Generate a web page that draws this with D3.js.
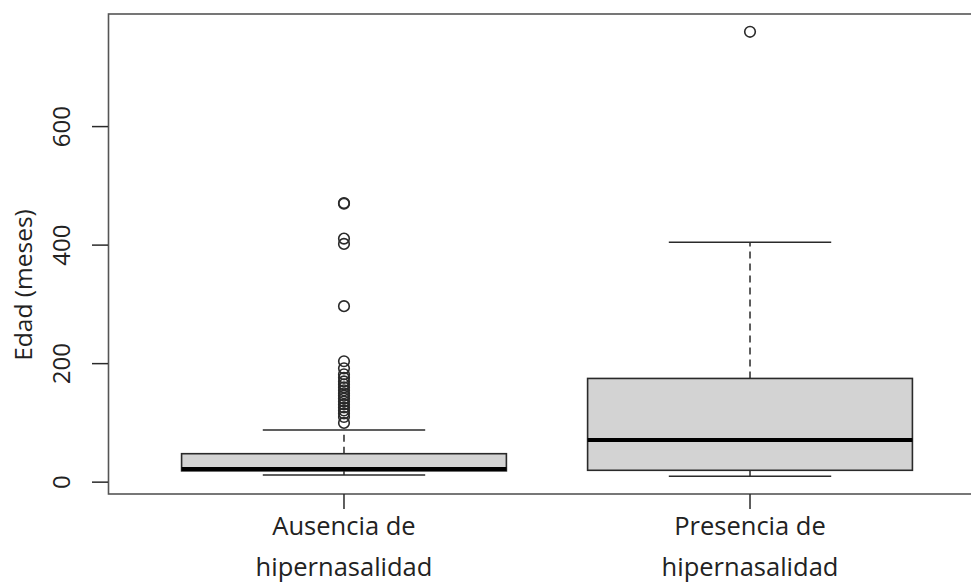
<!DOCTYPE html>
<html>
<head>
<meta charset="utf-8">
<script src="https://cdn.jsdelivr.net/npm/d3@7"></script>
<style>
body { margin: 0; background: #fff; }
text { font-family: "Open Sans", sans-serif; fill: #222; }
</style>
</head>
<body>
<script>
var WIDTH = 971,
    HEIGHT = 585;

// data
var categories = [['Ausencia de', 'hipernasalidad'], ['Presencia de', 'hipernasalidad']];
var whiskerLow = [12, 10];
var q1 = [19, 20];
var median = [22, 71];
var q3 = [48, 175];
var whiskerHigh = [88, 405];
var outliersAusencia = [471, 470, 411, 402, 297, 204, 192, 182, 176, 170, 165, 160, 155, 150, 146, 141, 136, 131, 126, 121, 116, 110, 100];
var outliersPresencia = [760];
var outliers = [outliersAusencia, outliersPresencia];
var yTicks = [0, 200, 400, 600];
var yLabel = 'Edad (meses)';

var svg = d3.select('body').append('svg')
    .attr('width', WIDTH)
    .attr('height', HEIGHT);

var x = d3.scaleLinear().domain([0.42, 2.58]).range([108.5, 985.5]);
var y = d3.scaleLinear().domain([-20, 790]).range([494, 14]);

var boxHalf = 0.4,
    capHalf = 0.2,
    ink = '#2a2a2a';

var groups = svg.selectAll('g.box')
    .data(categories.map(function(c, i) {
        return { pos: i + 1, lo: whiskerLow[i], q1: q1[i], med: median[i], q3: q3[i], hi: whiskerHigh[i], out: outliers[i] };
    }))
    .enter()
    .append('g')
    .attr('class', 'box');

// dashed whiskers
groups.append('line')
    .attr('x1', d => x(d.pos)).attr('x2', d => x(d.pos))
    .attr('y1', d => y(d.q3)).attr('y2', d => y(d.hi))
    .attr('stroke', ink).attr('stroke-width', 1.5)
    .attr('stroke-dasharray', '7,5');
groups.append('line')
    .attr('x1', d => x(d.pos)).attr('x2', d => x(d.pos))
    .attr('y1', d => y(d.lo)).attr('y2', d => y(d.q1))
    .attr('stroke', ink).attr('stroke-width', 1.5)
    .attr('stroke-dasharray', '7,5');

// caps
['lo', 'hi'].forEach(function(k) {
    groups.append('line')
        .attr('x1', d => x(d.pos - capHalf)).attr('x2', d => x(d.pos + capHalf))
        .attr('y1', d => y(d[k])).attr('y2', d => y(d[k]))
        .attr('stroke', ink).attr('stroke-width', 1.5);
});

groups.append('rect')
    .attr('x', d => x(d.pos - boxHalf))
    .attr('width', d => x(d.pos + boxHalf) - x(d.pos - boxHalf))
    .attr('y', d => y(d.q3))
    .attr('height', d => y(d.q1) - y(d.q3))
    .attr('fill', '#d3d3d3')
    .attr('stroke', ink).attr('stroke-width', 1.6);

groups.append('line')
    .attr('x1', d => x(d.pos - boxHalf)).attr('x2', d => x(d.pos + boxHalf))
    .attr('y1', d => y(d.med)).attr('y2', d => y(d.med))
    .attr('stroke', '#000').attr('stroke-width', 4);

groups.each(function(d) {
    d3.select(this).selectAll('circle')
        .data(d.out)
        .enter()
        .append('circle')
        .attr('cx', x(d.pos))
        .attr('cy', v => y(v))
        .attr('r', 5.3)
        .attr('fill', 'none')
        .attr('stroke', ink)
        .attr('stroke-width', 1.6);
});

// frame
svg.append('rect')
    .attr('x', x(0.42)).attr('y', y(790))
    .attr('width', x(2.58) - x(0.42))
    .attr('height', y(-20) - y(790))
    .attr('fill', 'none')
    .attr('stroke', '#555').attr('stroke-width', 1.6);

// y axis
var yAxis = svg.append('g');
yAxis.selectAll('line')
    .data(yTicks).enter().append('line')
    .attr('x1', 92).attr('x2', 108)
    .attr('y1', d => y(d)).attr('y2', d => y(d))
    .attr('stroke', ink).attr('stroke-width', 1.5);
yAxis.selectAll('text')
    .data(yTicks).enter().append('text')
    .attr('transform', d => 'translate(70,' + y(d) + ') rotate(-90)')
    .attr('text-anchor', 'middle')
    .style('font-size', '24px')
    .text(d => d);

svg.append('text')
    .attr('transform', 'translate(32,285) rotate(-90)')
    .attr('text-anchor', 'middle')
    .style('font-size', '24.5px')
    .text(yLabel);

// x axis ticks and labels
var xAxis = svg.append('g');
xAxis.selectAll('line')
    .data(categories).enter().append('line')
    .attr('x1', (d, i) => x(i + 1)).attr('x2', (d, i) => x(i + 1))
    .attr('y1', 494).attr('y2', 509)
    .attr('stroke', ink).attr('stroke-width', 1.5);
var labels = xAxis.selectAll('text')
    .data(categories).enter().append('text')
    .attr('text-anchor', 'middle')
    .style('font-size', '25.5px');
labels.append('tspan')
    .attr('x', (d, i) => x(i + 1)).attr('y', 535)
    .text(d => d[0]);
labels.append('tspan')
    .attr('x', (d, i) => x(i + 1)).attr('y', 576)
    .text(d => d[1]);
</script>
</body>
</html>
